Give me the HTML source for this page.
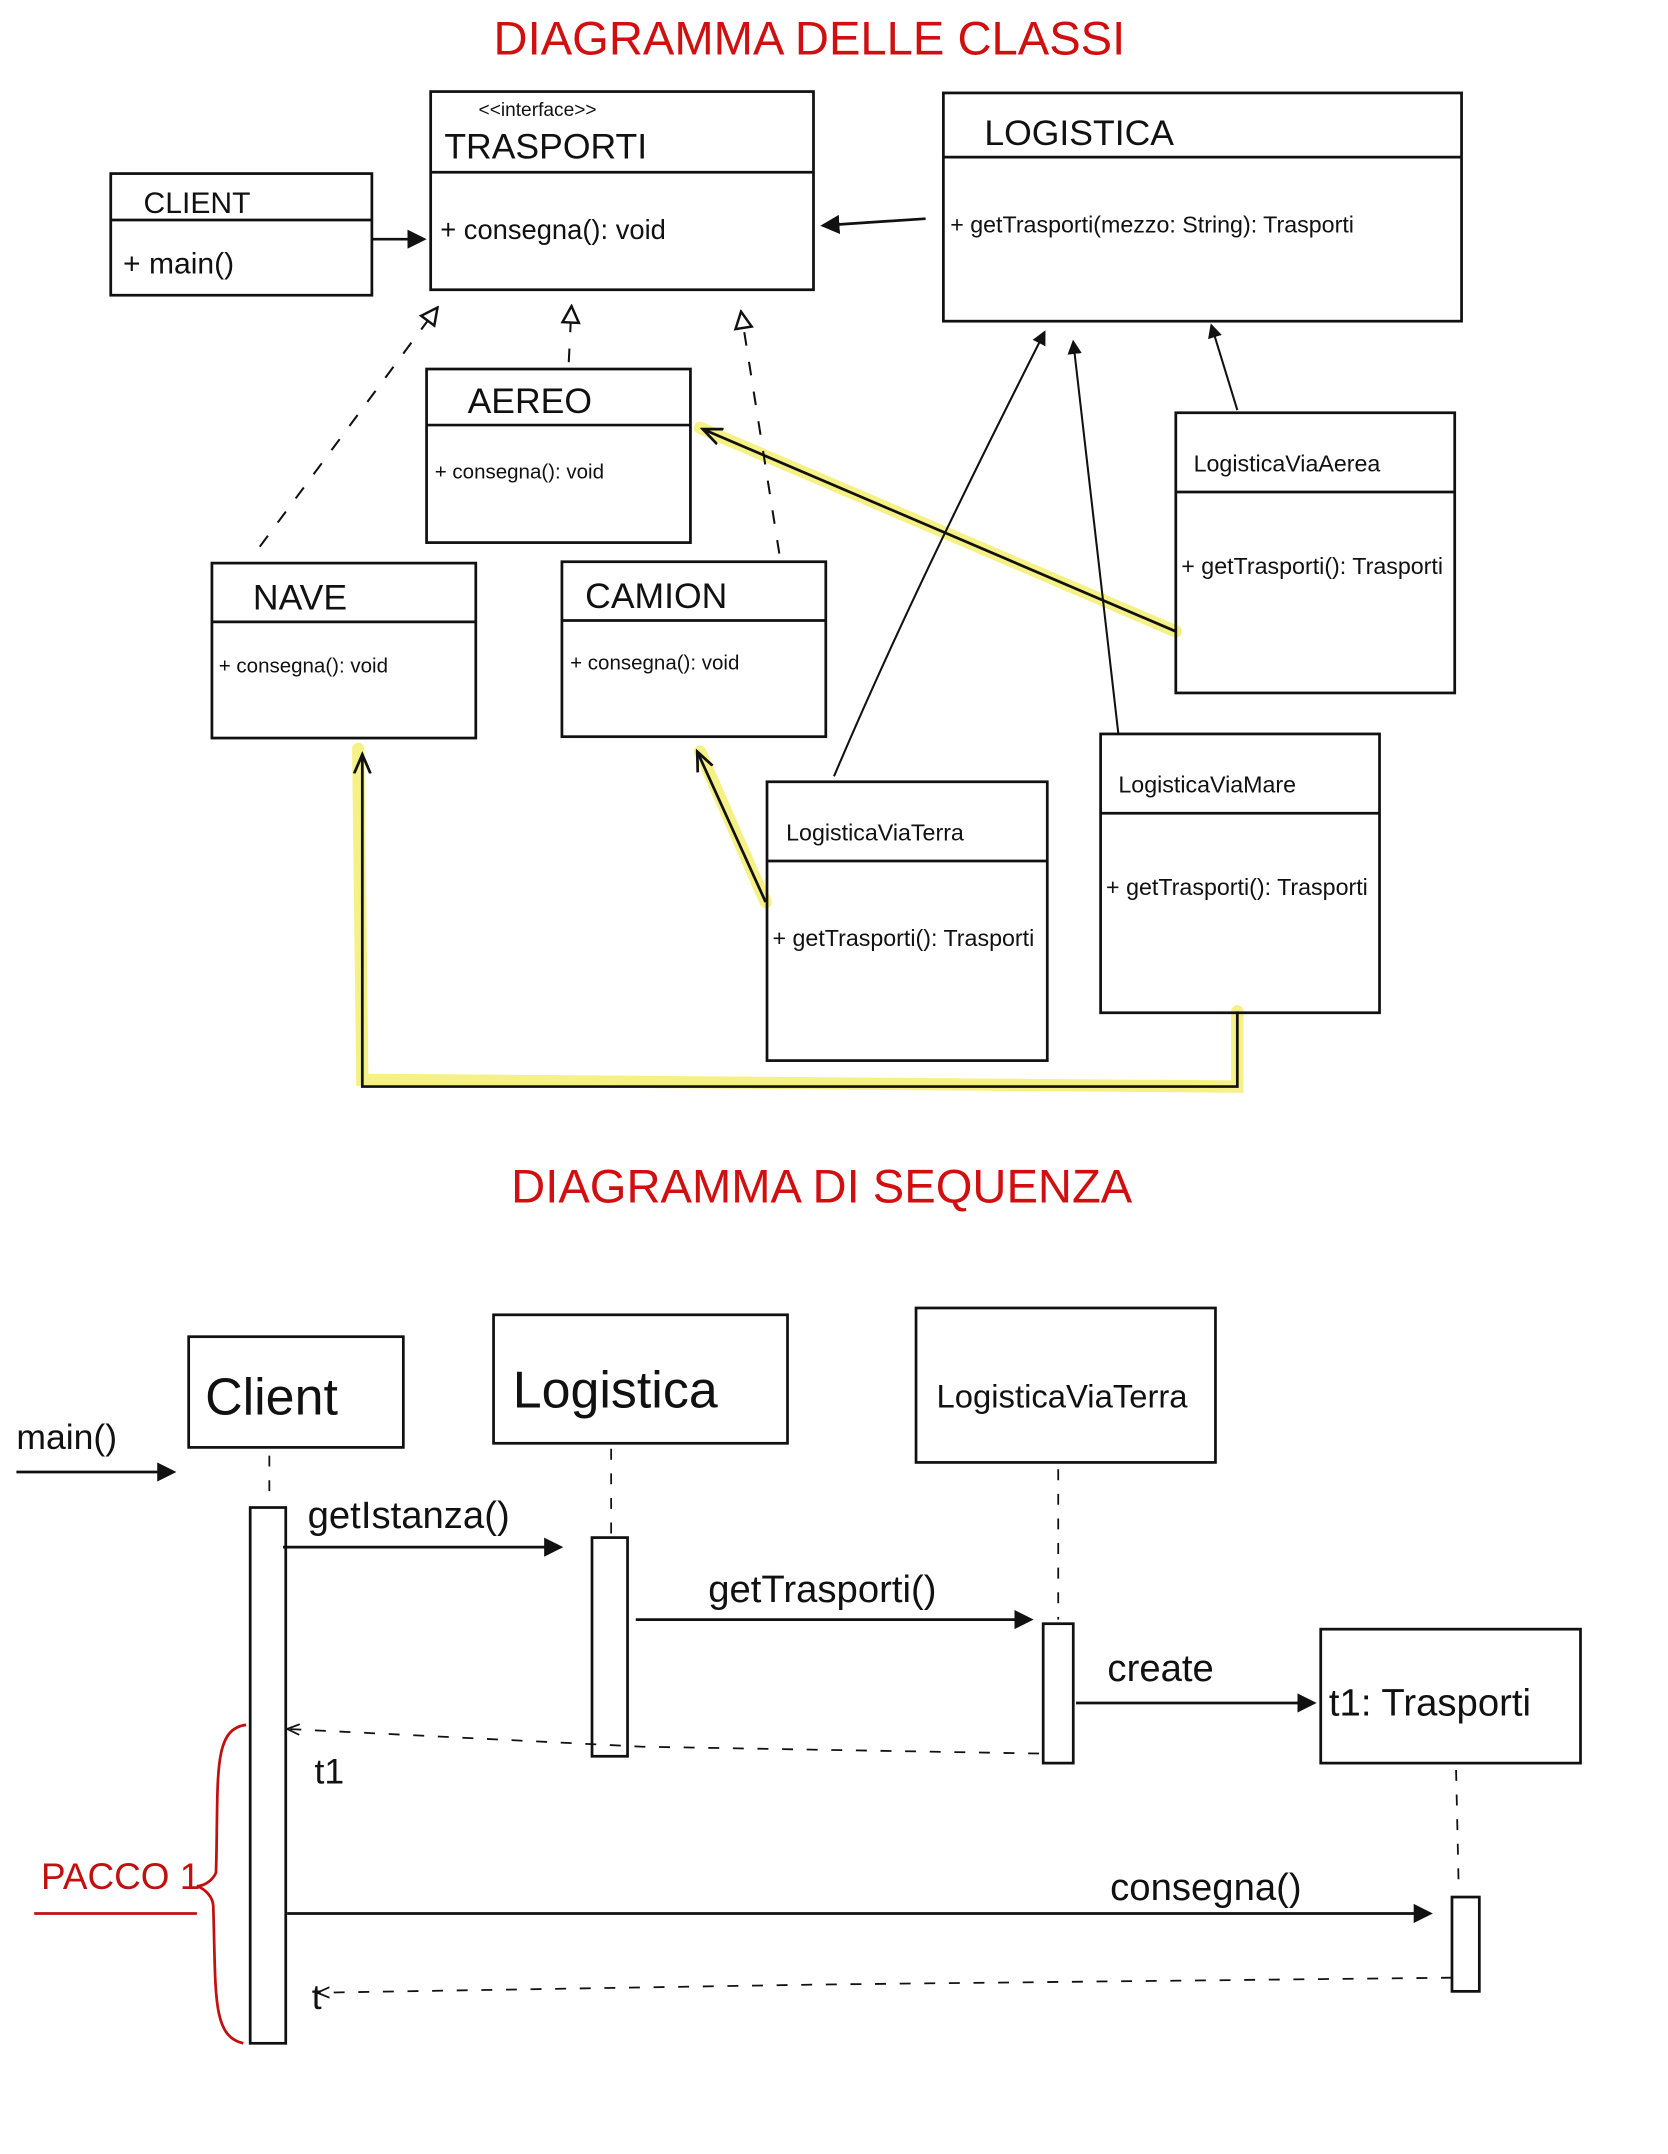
<!DOCTYPE html>
<html><head><meta charset="utf-8"><style>
html,body{margin:0;padding:0;background:#fff;}
svg{display:block;}
text{font-family:"Liberation Sans",sans-serif;fill:#111;}
.t{fill:#d01010;font-size:34.5px;}
</style></head><body>
<svg width="1668" height="2154" viewBox="0 0 1220 1576" preserveAspectRatio="none" xmlns="http://www.w3.org/2000/svg">
<defs>
<marker id="a" markerWidth="7" markerHeight="7" refX="6" refY="3.5" orient="auto" markerUnits="strokeWidth"><path d="M0,0 L7,3.5 L0,7 z" fill="#111"/></marker>
<marker id="o" markerWidth="8" markerHeight="8" refX="7" refY="4" orient="auto" markerUnits="strokeWidth"><path d="M0,1 L7,4 L0,7" fill="none" stroke="#111" stroke-width="1"/></marker>
<marker id="tri" markerWidth="10" markerHeight="10" refX="9" refY="5" orient="auto"><path d="M1,1 L9,5 L1,9 z" fill="#fff" stroke="#111" stroke-width="1.2"/></marker>
</defs>
<g fill="none" stroke="#111" stroke-width="2">
<g stroke="#f5f07a" stroke-width="9" stroke-linecap="round" opacity="0.9">
<path d="M860,462 L512,313"/><path d="M560,660 L512,550"/>
<path d="M905,740 L905,795 L265,790 L262,548"/>
</g>
<rect x="81" y="127" width="191" height="89"/><line x1="81" y1="161" x2="272" y2="161"/>
<rect x="315" y="67" width="280" height="145"/><line x1="315" y1="126" x2="595" y2="126"/>
<rect x="690" y="68" width="379" height="167"/><line x1="690" y1="115" x2="1069" y2="115"/>
<rect x="312" y="270" width="193" height="127"/><line x1="312" y1="311" x2="505" y2="311"/>
<rect x="155" y="412" width="193" height="128"/><line x1="155" y1="455" x2="348" y2="455"/>
<rect x="411" y="411" width="193" height="128"/><line x1="411" y1="454" x2="604" y2="454"/>
<rect x="860" y="302" width="204" height="205"/><line x1="860" y1="360" x2="1064" y2="360"/>
<rect x="805" y="537" width="204" height="204"/><line x1="805" y1="595" x2="1009" y2="595"/>
<rect x="561" y="572" width="205" height="204"/><line x1="561" y1="630" x2="766" y2="630"/>
<line x1="272" y1="175" x2="310" y2="175" marker-end="url(#a)"/>
<line x1="677" y1="160" x2="602" y2="165" marker-end="url(#a)"/>
<g stroke-dasharray="10,12" stroke-width="1.5">
<path d="M190,400 L320,225" marker-end="url(#tri)"/>
<path d="M416,265 L418,224" marker-end="url(#tri)"/>
<path d="M570,405 L542,228" marker-end="url(#tri)"/>
</g>
<path d="M860,462 L514,314" marker-end="url(#o)"/>
<path d="M560,660 L510,550" marker-end="url(#o)"/>
<path d="M905,740 L905,795 L265,795 L265,552" marker-end="url(#o)"/>
<path d="M905,300 L886,238" stroke-width="1.5" marker-end="url(#a)"/>
<path d="M818,537 L785,250" stroke-width="1.5" marker-end="url(#a)"/>
<path d="M610,568 C660,450 720,330 764,243" stroke-width="1.5" marker-end="url(#a)"/>
<rect x="138" y="978" width="157" height="81"/>
<rect x="361" y="962" width="215" height="94"/>
<rect x="670" y="957" width="219" height="113"/>
<rect x="966" y="1192" width="190" height="98"/>
<line x1="12" y1="1077" x2="127" y2="1077" marker-end="url(#a)"/>
<g stroke-dasharray="8,10" stroke-width="1.3">
<line x1="197" y1="1065" x2="197" y2="1100"/><line x1="447" y1="1060" x2="447" y2="1123"/>
<line x1="774" y1="1075" x2="774" y2="1185"/><line x1="1065" y1="1295" x2="1067" y2="1385"/>
<path d="M760,1283 L470,1278 L210,1265" marker-end="url(#o)"/>
<path d="M1062,1447 L600,1452 L232,1458" marker-end="url(#o)"/>
</g>
<rect x="183" y="1103" width="26" height="392"/>
<rect x="433" y="1125" width="26" height="160"/>
<rect x="763" y="1188" width="22" height="102"/>
<rect x="1062" y="1388" width="20" height="69"/>
<line x1="207" y1="1132" x2="410" y2="1132" marker-end="url(#a)"/>
<line x1="465" y1="1185" x2="754" y2="1185" marker-end="url(#a)"/>
<line x1="787" y1="1246" x2="961" y2="1246" marker-end="url(#a)"/>
<line x1="210" y1="1400" x2="1046" y2="1400" marker-end="url(#a)"/>
<path d="M180,1262 C155,1265 160,1300 158,1370 C156,1375 150,1380 144,1380 C150,1382 156,1388 156,1395 C158,1460 155,1490 178,1495" stroke="#c01010" stroke-width="2"/>
<line x1="25" y1="1400" x2="144" y2="1400" stroke="#c01010" stroke-width="2"/>
</g>
<text class="t" x="592" y="40" text-anchor="middle">DIAGRAMMA DELLE CLASSI</text>
<text class="t" x="601" y="880" text-anchor="middle">DIAGRAMMA DI SEQUENZA</text>
<g font-size="20">
<text x="105" y="156" font-size="22">CLIENT</text>
<text x="90" y="200" font-size="22">+ main()</text>
<text x="350" y="85" font-size="14">&lt;&lt;interface&gt;&gt;</text>
<text x="325" y="116" font-size="26">TRASPORTI</text>
<text x="322" y="175">+ consegna(): void</text>
<text x="720" y="106" font-size="26">LOGISTICA</text>
<text x="695" y="170" font-size="17">+ getTrasporti(mezzo: String): Trasporti</text>
<text x="342" y="302" font-size="26">AEREO</text>
<text x="318" y="350" font-size="15">+ consegna(): void</text>
<text x="185" y="446" font-size="26">NAVE</text>
<text x="160" y="492" font-size="15">+ consegna(): void</text>
<text x="428" y="445" font-size="26">CAMION</text>
<text x="417" y="490" font-size="15">+ consegna(): void</text>
<text x="873" y="345" font-size="17">LogisticaViaAerea</text>
<text x="864" y="420" font-size="17">+ getTrasporti(): Trasporti</text>
<text x="818" y="580" font-size="17">LogisticaViaMare</text>
<text x="809" y="655" font-size="17">+ getTrasporti(): Trasporti</text>
<text x="575" y="615" font-size="17">LogisticaViaTerra</text>
<text x="565" y="692" font-size="17">+ getTrasporti(): Trasporti</text>
<text x="150" y="1035" font-size="38">Client</text>
<text x="375" y="1030" font-size="38">Logistica</text>
<text x="685" y="1030" font-size="24">LogisticaViaTerra</text>
<text x="972" y="1255" font-size="28">t1: Trasporti</text>
<text x="12" y="1060" font-size="26">main()</text>
<text x="225" y="1118" font-size="28">getIstanza()</text>
<text x="518" y="1172" font-size="28">getTrasporti()</text>
<text x="810" y="1230" font-size="28">create</text>
<text x="230" y="1305" font-size="26">t1</text>
<text x="812" y="1390" font-size="28">consegna()</text>
<text x="228" y="1470" font-size="26">t</text>
<text x="30" y="1382" font-size="27" style="fill:#c01010">PACCO 1</text>
</g>
</svg>
</body></html>
